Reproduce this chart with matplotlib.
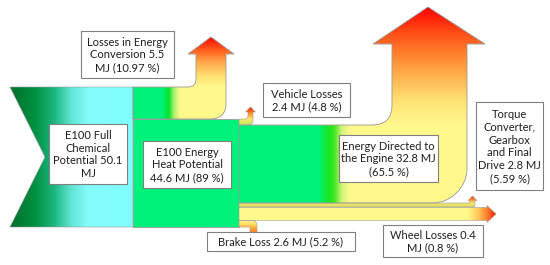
import numpy as np
import matplotlib
matplotlib.use("Agg")
import matplotlib.pyplot as plt
from matplotlib.path import Path
from matplotlib.patches import PathPatch, Rectangle

# ---------------- data ----------------
node_keys = ["chem", "heat", "conv", "vehicle", "engine", "torque", "brake", "wheel"]
energy_mj = [50.1, 44.6, 5.5, 2.4, 32.8, 2.8, 2.6, 0.4]
share_pct = ["", "89", "10.97", "4.8", "65.5", "5.59", "5.2", "0.8"]
label_tpl = [
    "E100 Full\nChemical\nPotential {v}\nMJ",
    "E100 Energy\nHeat Potential\n{v} MJ ({p} %)",
    "Losses in Energy\nConversion {v}\nMJ ({p} %)",
    "Vehicle Losses\n{v} MJ ({p} %)",
    "Energy Directed to\nthe Engine {v} MJ\n({p} %)",
    "Torque\nConverter,\nGearbox\nand Final\nDrive {v} MJ\n({p} %)",
    "Brake Loss {v} MJ ({p} %)",
    "Wheel Losses {v}\nMJ ({p} %)",
]

# ---------------- layout (pixel space) ----------------
W, H = 550, 265
label_boxes = {
    "chem": (49, 124, 127, 184),
    "heat": (143, 141, 231, 188),
    "conv": (81, 31, 174, 78),
    "vehicle": (263, 83, 350, 117),
    "engine": (339, 135, 438, 182),
    "torque": (476, 102, 543, 190),
    "brake": (207, 232, 355, 251),
    "wheel": (383, 225, 483, 257),
}

GREEN = (0, 242, 122)
YELLOW = (255, 249, 140)
EDGE = "#9a9a9a"

fig = plt.figure(figsize=(W / 100, H / 100), dpi=100)
ax = fig.add_axes([0, 0, 1, 1])
ax.axis("off")


def build_path(ops):
    verts, codes = [], []
    for op in ops:
        if op[0] == "M":
            verts.append(op[1]); codes.append(Path.MOVETO)
        elif op[0] == "L":
            verts.append(op[1]); codes.append(Path.LINETO)
        elif op[0] == "Q":
            verts += [op[1], op[2]]; codes += [Path.CURVE3, Path.CURVE3]
    verts.append(verts[0]); codes.append(Path.CLOSEPOLY)
    return Path(verts, codes)


def stops_fn(stops):
    pos = np.array([s[0] for s in stops], float)
    cols = np.array([s[1] for s in stops], float) / 255.0
    def f(v):
        return np.stack([np.interp(v, pos, cols[:, i]) for i in range(3)], axis=-1)
    return f


def grad_fill(path, colfun, z=1, lw=0.6):
    ext = path.get_extents()
    x0, y0 = np.floor(ext.x0) - 1, np.floor(ext.y0) - 1
    x1, y1 = np.ceil(ext.x1) + 1, np.ceil(ext.y1) + 1
    nx, ny = int((x1 - x0) * 3), int((y1 - y0) * 3)
    xs = np.linspace(x0, x1, nx)
    ys = np.linspace(y0, y1, ny)
    X, Y = np.meshgrid(xs, ys)
    img = np.clip(colfun(X, Y), 0, 1)
    im = ax.imshow(img, extent=(x0, x1, y1, y0), origin="upper",
                   interpolation="bilinear", zorder=z, aspect="auto")
    patch = PathPatch(path, facecolor="none", edgecolor=EDGE, lw=lw, zorder=z + 0.1)
    ax.add_patch(patch)
    im.set_clip_path(patch)


# ---- A: full chemical potential (chevron) ----
pA = build_path([("M", (10, 87)), ("L", (133, 87)), ("L", (133, 227)),
                 ("L", (10, 227)), ("L", (45, 157))])
hA = stops_fn([(10, (0, 112, 42)), (35, (0, 145, 65)), (55, (30, 185, 130)),
               (72, (100, 230, 215)), (88, (130, 252, 250)), (133, (128, 255, 255))])
grad_fill(pA, lambda X, Y: hA(X), z=1, lw=0.4)

# ---- B: losses in energy conversion (band + arrow up) ----
pB = build_path([("M", (133, 87)), ("L", (188, 87)), ("Q", (196, 87), (196, 79)),
                 ("L", (196, 54)), ("L", (188, 54)), ("L", (211, 37)), ("L", (234, 54)),
                 ("L", (226, 54)), ("L", (226, 103)), ("Q", (226, 119), (210, 119)),
                 ("L", (133, 119))])
hB = stops_fn([(133, GREEN), (162, GREEN), (169, (10, 228, 40)), (174, (170, 240, 110)),
               (180, YELLOW), (240, YELLOW)])
vB = stops_fn([(37, (255, 5, 0)), (50, (255, 95, 30)), (62, (255, 165, 70)),
               (76, (255, 225, 115)), (87, YELLOW)])
grad_fill(pB, lambda X, Y: np.where((Y >= 87)[..., None], hB(X), vB(Y)), z=1)

# ---- C: heat potential block ----
ax.add_patch(Rectangle((133, 119), 106, 108, facecolor=np.array(GREEN) / 255,
                       edgecolor=EDGE, lw=0.6, zorder=2))

# ---- D: vehicle losses (small arrow up) ----
pD = build_path([("M", (239, 119)), ("L", (245, 119)), ("Q", (248, 119), (248, 116)),
                 ("L", (248, 112)), ("L", (245.5, 112)), ("L", (250.5, 107)),
                 ("L", (255.5, 112)), ("L", (253, 112)), ("L", (253, 120)),
                 ("Q", (253, 125), (248, 125)), ("L", (239, 125))])
vD = stops_fn([(107, (255, 20, 0)), (113, (255, 140, 40)), (119, (250, 230, 110)),
               (125, (200, 235, 90))])
grad_fill(pD, lambda X, Y: vD(Y), z=2, lw=0.4)

# ---- E: energy directed to the engine (big flow + arrow up) ----
k = 0.5523
pE = Path([(239, 125), (372, 125), (392, 125), (392, 105), (392, 44), (373, 44),
           (428, 7), (485, 44), (467, 44), (467, 168),
           (467, 168 + 35 * k), (432 + 35 * k, 203), (432, 203), (239, 203), (239, 125)],
          [Path.MOVETO, Path.LINETO, Path.CURVE3, Path.CURVE3, Path.LINETO, Path.LINETO,
           Path.LINETO, Path.LINETO, Path.LINETO, Path.LINETO,
           Path.CURVE4, Path.CURVE4, Path.CURVE4, Path.LINETO, Path.CLOSEPOLY])
hE = stops_fn([(239, GREEN), (318, GREEN), (328, (20, 232, 40)), (334, (60, 230, 30)),
               (342, (210, 245, 120)), (350, YELLOW), (500, YELLOW)])
vE = stops_fn([(7, (255, 0, 0)), (30, (255, 70, 20)), (50, (255, 120, 40)),
               (75, (255, 175, 75)), (100, (255, 225, 115)), (125, YELLOW)])
grad_fill(pE, lambda X, Y: np.where((Y >= 125)[..., None], hE(X), vE(Y)), z=2)

# ---- F: torque converter / gearbox (thin band + small arrow) ----
pF = build_path([("M", (239, 203)), ("L", (468, 203)), ("Q", (470, 203), (470, 201)),
                 ("L", (470, 200.5)), ("L", (468, 200.5)), ("L", (472.5, 196)),
                 ("L", (477, 200.5)), ("L", (475, 200.5)), ("L", (475, 205)),
                 ("Q", (475, 207), (473, 207)), ("L", (239, 207))])
vF = stops_fn([(196, (255, 40, 0)), (200, (255, 150, 60)), (203, (240, 232, 110)),
               (207, (225, 220, 95))])
grad_fill(pF, lambda X, Y: vF(Y), z=2, lw=0.4)

# ---- G: wheel losses (band + arrow right) ----
pG = build_path([("M", (239, 207.5)), ("L", (487, 207.5)), ("L", (487, 205.5)),
                 ("L", (496, 214)), ("L", (487, 222.5)), ("L", (487, 220.5)),
                 ("L", (239, 220.5))])
hG = stops_fn([(239, YELLOW), (468, YELLOW), (480, (255, 190, 80)),
               (489, (255, 110, 40)), (496, (255, 30, 0))])
grad_fill(pG, lambda X, Y: hG(X), z=2, lw=0.4)

# ---- H: brake loss (band + down) ----
pH = build_path([("M", (239, 220.5)), ("L", (252, 220.5)), ("Q", (257, 220.5), (257, 225.5)),
                 ("L", (257, 234)), ("L", (250, 234)), ("L", (250, 227)), ("L", (239, 227))])
vH = stops_fn([(220, YELLOW), (224, (255, 220, 100)), (229, (255, 160, 50)),
               (234, (255, 110, 20))])
grad_fill(pH, lambda X, Y: vH(Y), z=2, lw=0.4)

# ---------------- labels ----------------
for key, val, pct, tpl in zip(node_keys, energy_mj, share_pct, label_tpl):
    x0, y0, x1, y1 = label_boxes[key]
    ax.add_patch(Rectangle((x0, y0), x1 - x0, y1 - y0, facecolor="white",
                           edgecolor="#808080", lw=0.8, zorder=5))
    ax.text((x0 + x1) / 2, (y0 + y1) / 2 + 0.5, tpl.format(v=val, p=pct),
            ha="center", va="center", fontsize=8.0, family=["Lato", "DejaVu Sans"],
            color="#1e1e1e", linespacing=1.2, zorder=6)

ax.set_xlim(0, W)
ax.set_ylim(H, 0)
fig.savefig("out.png", dpi=100, facecolor="white")
